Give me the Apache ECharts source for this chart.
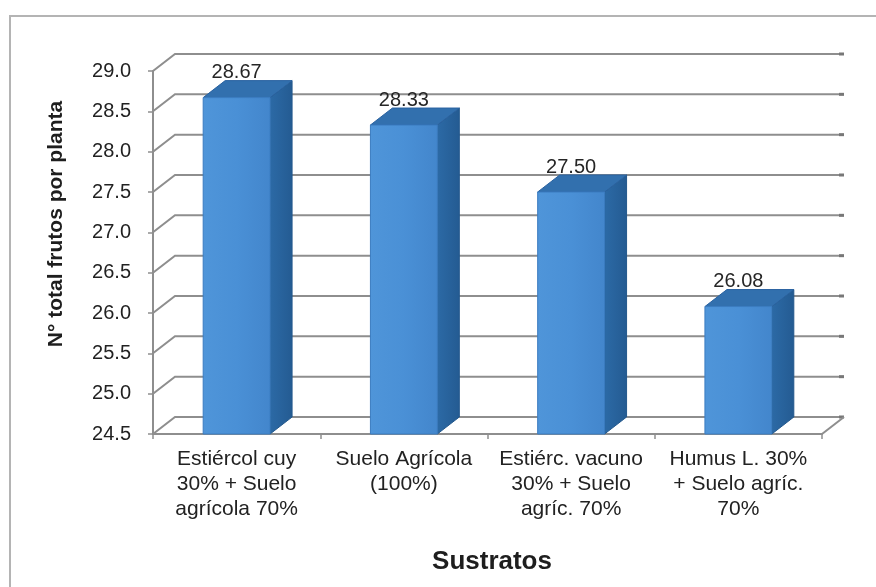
<!DOCTYPE html>
<html>
<head>
<meta charset="utf-8">
<script src="https://cdn.jsdelivr.net/npm/echarts@6/dist/echarts.min.js"></script>
<style>
  html, body { margin: 0; padding: 0; background: #ffffff; }
  #chart { width: 876px; height: 587px; }
</style>
</head>
<body>
<div id="chart"></div>
<script>
// Substrate treatments (x categories)
const categories = [
  'Estiércol cuy\n30% + Suelo\nagrícola 70%',
  'Suelo Agrícola\n(100%)',
  'Estiérc. vacuno\n30% + Suelo\nagríc. 70%',
  'Humus L. 30%\n+ Suelo agríc.\n70%'
];
// Mean total fruits per plant
const values = [28.67, 28.33, 27.50, 26.08];
// Value axis ticks
const yTicks = [24.5, 25.0, 25.5, 26.0, 26.5, 27.0, 27.5, 28.0, 28.5, 29.0];

const yMin = 24.5, yMax = 29.0, yStep = 0.5;
const DX = 22, DY = -17;   // depth offset of the pseudo-3D box
const FONT = 'Liberation Sans, Arial, sans-serif';

const chart = echarts.init(document.getElementById('chart'), null, { renderer: 'canvas' });

function wallItem(params, api) {
  const v = api.value(1);
  const cs = params.coordSys;
  const y = api.coord([0, v])[1];
  const x0 = cs.x, x1 = cs.x + cs.width;
  const style = { stroke: '#8e8e8e', lineWidth: 2, fill: null };
  const children = [
    { type: 'polyline', shape: { points: [[x0, y], [x0 + DX, y + DY], [x1 + DX, y + DY]] }, style: style },
    { type: 'rect', shape: { x: x1 + DX - 5, y: y + DY - 1.5, width: 5, height: 3 }, style: { fill: '#777' } }
  ];
  if (v === yMin) {
    children.push({ type: 'line', shape: { x1: x1, y1: y, x2: x1 + DX, y2: y + DY }, style: style });
  }
  return { type: 'group', children: children };
}

function barItem(params, api) {
  const idx = api.value(0);
  const v = api.value(1);
  const top = api.coord([idx, v]);
  const base = api.coord([idx, yMin]);
  const w = api.size([1, 0])[0] * 0.4;
  const xl = top[0] - w / 2, xr = top[0] + w / 2;
  const yt = top[1], yb = base[1];
  return {
    type: 'group',
    children: [
      { type: 'polygon', shape: { points: [[xr, yt], [xr + DX, yt + DY], [xr + DX, yb + DY], [xr, yb]] },
        style: { fill: new echarts.graphic.LinearGradient(0, 0, 1, 0, [
          { offset: 0, color: '#2c6aa6' }, { offset: 1, color: '#245b92' }]), stroke: '#23588c', lineWidth: 1 } },
      { type: 'polygon', shape: { points: [[xl, yt], [xl + DX, yt + DY], [xr + DX, yt + DY], [xr, yt]] },
        style: { fill: '#3270ae', stroke: '#2a62a0', lineWidth: 1 } },
      { type: 'rect', shape: { x: xl, y: yt, width: w, height: yb - yt },
        style: { fill: new echarts.graphic.LinearGradient(0, 0, 1, 0, [
          { offset: 0, color: '#4f95d9' }, { offset: 0.5, color: '#4a90d6' }, { offset: 1, color: '#4386cc' }]),
          stroke: '#3b7cc0', lineWidth: 1 } },
      { type: 'text', style: {
          text: v.toFixed(2), x: top[0], y: yt + DY + 2,
          align: 'center', verticalAlign: 'bottom',
          font: '20px "Liberation Sans Narrow", "Arial Narrow", ' + FONT, fill: '#262626' } }
    ]
  };
}

chart.setOption({
  backgroundColor: '#ffffff',
  animation: false,
  grid: { left: 153, top: 71, width: 669, height: 363 },
  xAxis: {
    type: 'category',
    data: categories,
    boundaryGap: true,
    axisLine: { show: true, lineStyle: { color: '#8e8e8e', width: 2 } },
    axisTick: { show: true, alignWithLabel: false, length: 5, lineStyle: { color: '#8e8e8e', width: 1.5 } },
    axisLabel: { color: '#222', fontFamily: FONT, fontSize: 21, lineHeight: 25, margin: 13, interval: 0, align: 'center' },
    splitLine: { show: false }
  },
  yAxis: {
    type: 'value',
    min: yMin, max: yMax, interval: yStep,
    axisLine: { show: true, lineStyle: { color: '#8e8e8e', width: 2 } },
    axisTick: { show: true, length: 5, lineStyle: { color: '#8e8e8e', width: 1.5 } },
    axisLabel: { color: '#222', fontFamily: FONT, fontSize: 20, margin: 22,
      formatter: function (v) { return v.toFixed(1); } },
    splitLine: { show: false }
  },
  graphic: [
    { type: 'rect', z: -10, shape: { x: 10, y: 16, width: 900, height: 620 },
      style: { fill: null, stroke: '#b4b4b4', lineWidth: 2 } },
    { type: 'text', x: 56, y: 224, rotation: Math.PI / 2,
      style: { text: 'N° total frutos por planta', font: 'bold 21px ' + FONT, fill: '#1e1e1e',
        align: 'center', verticalAlign: 'middle' } },
    { type: 'text', x: 492, y: 562,
      style: { text: 'Sustratos', font: 'bold 26px ' + FONT, fill: '#1e1e1e',
        align: 'center', verticalAlign: 'middle' } }
  ],
  series: [
    { type: 'custom', name: 'walls', z: 1, silent: true,
      data: yTicks.map(function (t) { return [0, t]; }),
      encode: { x: 0, y: 1 }, renderItem: wallItem },
    { type: 'custom', name: 'frutos', z: 3,
      data: values.map(function (v, i) { return [i, v]; }),
      encode: { x: 0, y: 1 }, renderItem: barItem }
  ]
});
</script>
</body>
</html>
